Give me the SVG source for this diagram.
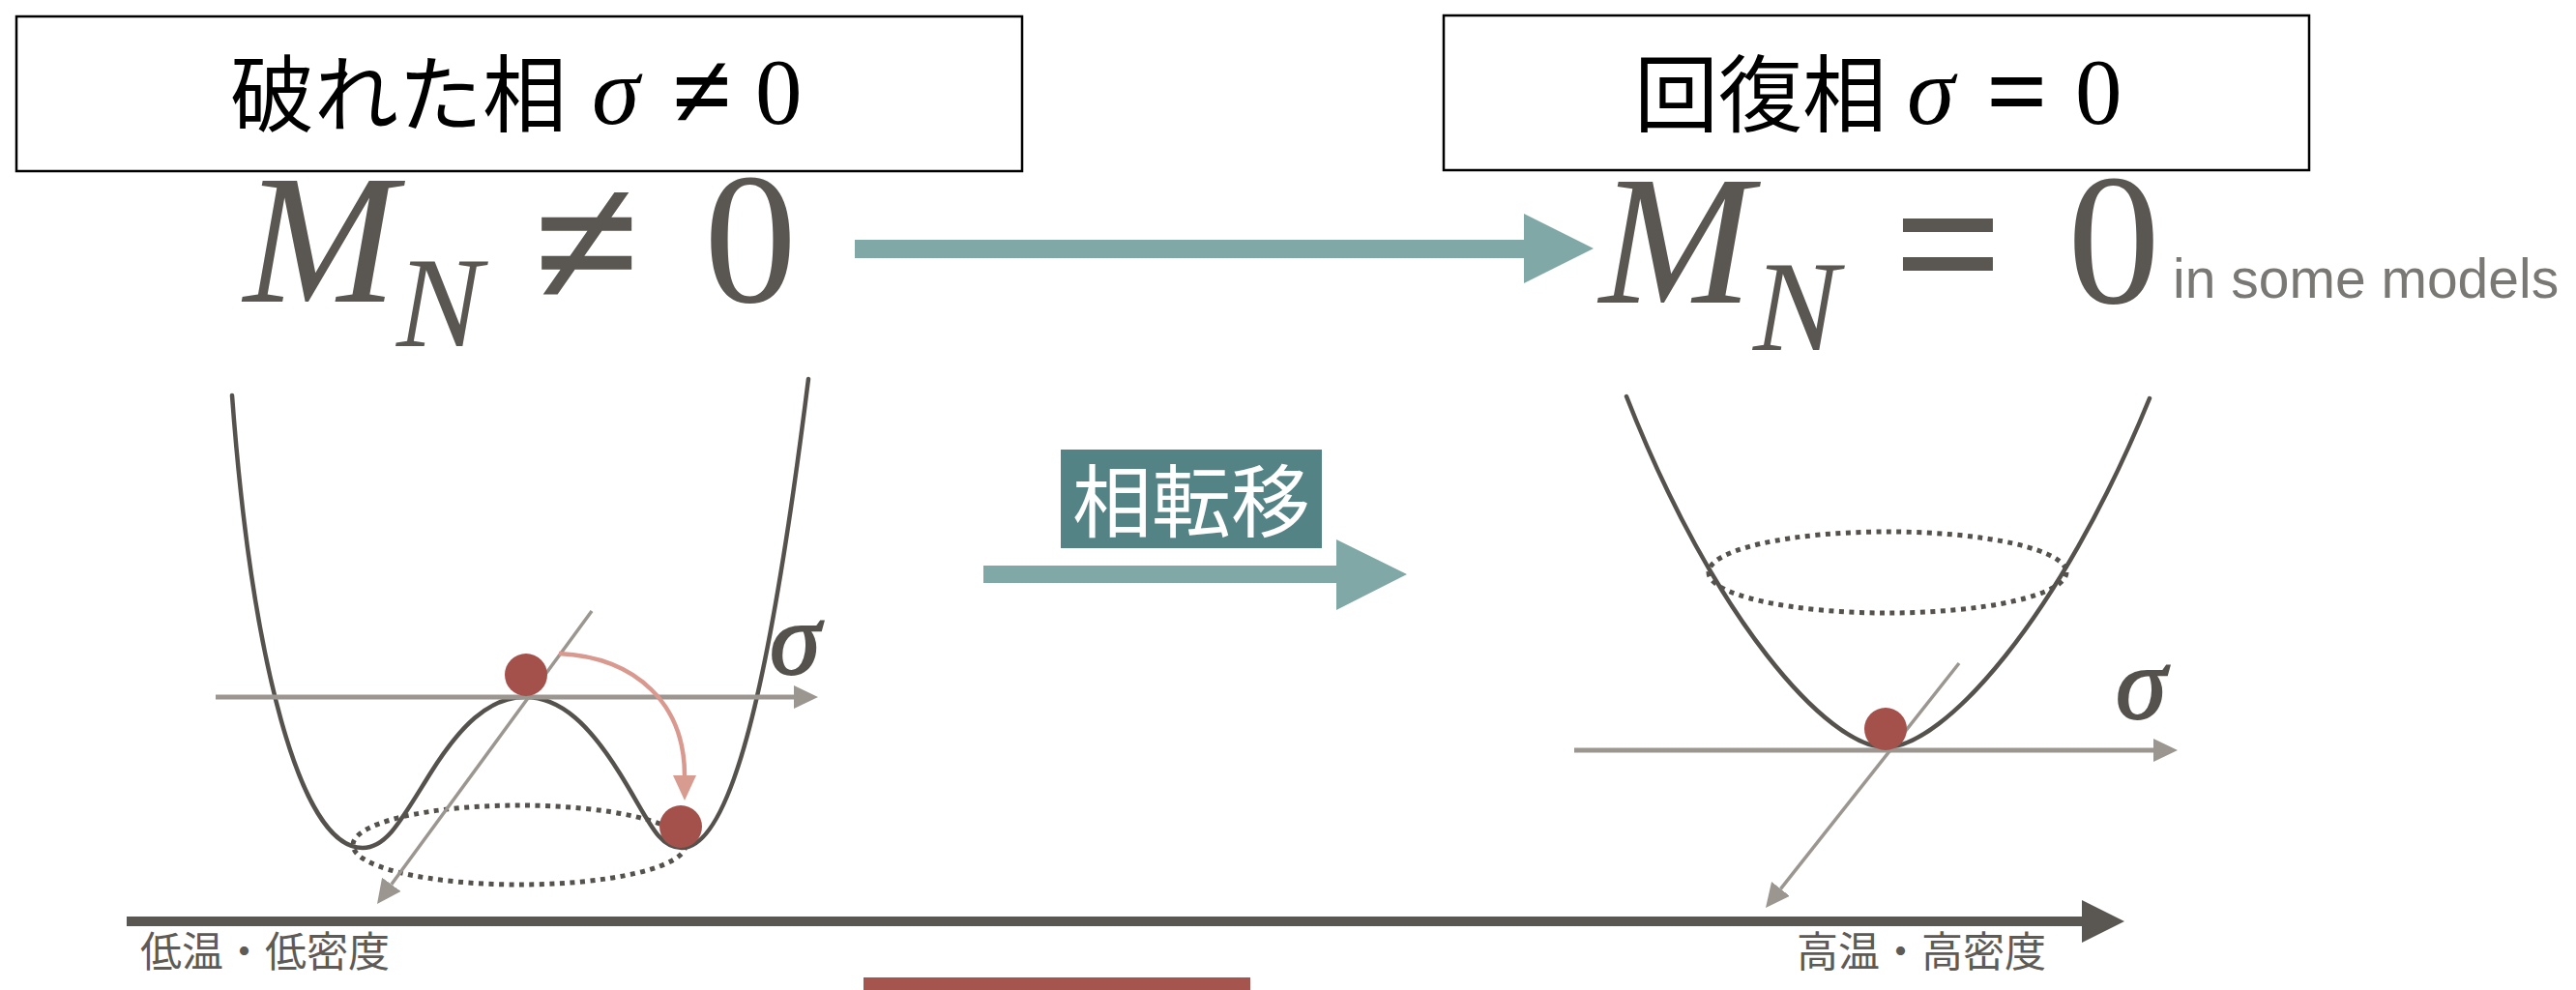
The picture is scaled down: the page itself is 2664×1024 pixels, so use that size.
<svg xmlns="http://www.w3.org/2000/svg" width="2664" height="1024" viewBox="0 0 2664 1024">
  <style>
    .box { fill: #ffffff; stroke: #000000; stroke-width: 2.5; }
    .title-jp { font-family: "Noto Sans CJK JP", "Noto Sans", sans-serif; font-size: 87px; fill: #000000; }
    .title-math { font-family: "Liberation Serif", "DejaVu Serif", serif; font-size: 100px; fill: #000000; }
    .title-sym { font-family: "Liberation Serif", "DejaVu Serif", serif; font-size: 112px; font-weight: bold; fill: #000000; }
    .title-num { font-family: "Liberation Serif", "DejaVu Serif", serif; font-size: 97px; fill: #000000; }
    .mass { font-family: "Liberation Serif", "DejaVu Serif", serif; fill: #5a5651; }
    .mass-it { font-style: italic; }
    .mass-sym { font-weight: bold; }
    .note { font-family: "Liberation Sans", Arial, sans-serif; font-size: 57px; fill: #7a7875; }
    .sigma { font-family: "Liberation Serif", "DejaVu Serif", serif; font-style: italic; font-size: 106px; fill: #55524e; stroke: #55524e; stroke-width: 2; }
    .curve { fill: none; stroke: #55524e; stroke-width: 4.5; stroke-linecap: round; }
    .orbit { fill: none; stroke: #55524e; stroke-width: 5; stroke-dasharray: 5 5.5; }
    .axis { fill: none; stroke: #9b968f; stroke-width: 5; }
    .axis-diag { fill: none; stroke: #9b968f; stroke-width: 3.5; }
    .ball { fill: #a5514b; }
    .teal { fill: #80a8a6; }
    .label-jp { font-family: "Noto Sans CJK JP", "Noto Sans", sans-serif; font-size: 43px; fill: #5e5a55; }
  </style>
  <defs>
    <marker id="head-gray" viewBox="0 0 25 24" refX="0" refY="12" markerWidth="25" markerHeight="24" markerUnits="userSpaceOnUse" orient="auto">
      <path d="M0 0 L25 12 L0 24 z" fill="#9b968f"/>
    </marker>
    <marker id="head-pink" viewBox="0 0 26 24" refX="0" refY="12" markerWidth="26" markerHeight="24" markerUnits="userSpaceOnUse" orient="auto">
      <path d="M0 0 L26 12 L0 24 z" fill="#d79b90"/>
    </marker>
    <marker id="head-dark" viewBox="0 0 44 44" refX="0" refY="22" markerWidth="44" markerHeight="44" markerUnits="userSpaceOnUse" orient="auto">
      <path d="M0 0 L44 22 L0 44 z" fill="#5a5753"/>
    </marker>
  </defs>

  <rect width="2664" height="1024" fill="#ffffff"/>

  <!-- broken phase heading -->
  <g id="broken-phase-title">
    <rect class="box" x="17" y="17" width="1040" height="160"/>
    <text class="title-jp" x="238" y="130">破れた相</text>
    <text class="title-math" x="612" y="128" font-style="italic">σ</text>
    <text class="title-sym" x="695" y="132">≠</text>
    <text class="title-num" x="781" y="128">0</text>
  </g>

  <!-- restored phase heading -->
  <g id="restored-phase-title">
    <rect class="box" x="1493" y="16" width="895" height="160"/>
    <text class="title-jp" x="1690" y="130">回復相</text>
    <text class="title-math" x="1972" y="128" font-style="italic">σ</text>
    <text class="title-sym" x="2054" y="132">=</text>
    <text class="title-num" x="2146" y="128">0</text>
  </g>

  <!-- nucleon mass, broken phase -->
  <g id="mass-broken">
    <text class="mass mass-it" x="252" y="312" font-size="190">M</text>
    <text class="mass mass-it" x="410" y="358" font-size="133">N</text>
    <text class="mass mass-sym" x="552" y="318" font-size="200">≠</text>
    <text class="mass" x="728" y="312" font-size="192">0</text>
  </g>

  <!-- nucleon mass, restored phase -->
  <g id="mass-restored">
    <text class="mass mass-it" x="1654" y="313" font-size="190">M</text>
    <text class="mass mass-it" x="1813" y="362" font-size="133">N</text>
    <text class="mass mass-sym" x="1958" y="319" font-size="200">=</text>
    <text class="mass" x="2138" y="313" font-size="192">0</text>
    <text class="note" x="2247" y="308">in some models</text>
  </g>

  <!-- double-well potential -->
  <g id="potential-broken">
    <ellipse class="orbit" cx="537" cy="874" rx="172" ry="41"/>
    <path class="curve" d="M240 409 C260 680 310 877 375 877 C400 877 415 848 445 800 C475 752 505 721 543 721 C581 721 611 752 641 800 C671 848 680 877 705 877 C760 877 800 680 836 392"/>
    <line class="axis" x1="223" y1="721" x2="821" y2="721" marker-end="url(#head-gray)"/>
    <line class="axis-diag" x1="612" y1="632" x2="404.8" y2="914.8" marker-end="url(#head-gray)"/>
    <text class="sigma" x="796" y="697">σ</text>
    <circle class="ball" cx="544" cy="698" r="22"/>
    <circle class="ball" cx="704" cy="855" r="22"/>
    <path d="M578 676 C660 680 708 730 708 802" fill="none" stroke="#d9998e" stroke-width="4.5" marker-end="url(#head-pink)"/>
  </g>

  <!-- single-well potential -->
  <g id="potential-restored">
    <ellipse class="orbit" cx="1952" cy="592" rx="185" ry="42"/>
    <path class="curve" d="M1682 410 C1772 640 1890 773 1950 773 C2010 773 2130 640 2223 412"/>
    <line class="axis" x1="1628" y1="776" x2="2227" y2="776" marker-end="url(#head-gray)"/>
    <line class="axis-diag" x1="2026" y1="686" x2="1841.5" y2="919.4" marker-end="url(#head-gray)"/>
    <text class="sigma" x="2188" y="743">σ</text>
    <circle class="ball" cx="1950" cy="754" r="22"/>
  </g>

  <!-- phase transition tag -->
  <g id="transition-label">
    <rect x="1097" y="465" width="270" height="102" fill="#548386"/>
    <text x="1232" y="549" text-anchor="middle" font-family="'Noto Sans CJK JP', 'Noto Sans', sans-serif" font-size="82" fill="#ffffff">相転移</text>
  </g>

  <!-- temperature / density axis -->
  <g id="temperature-axis">
    <line x1="131" y1="953" x2="2153" y2="953" stroke="#5a5753" stroke-width="10" marker-end="url(#head-dark)"/>
    <text class="label-jp" x="145" y="1000">低温・低密度</text>
    <text class="label-jp" x="1858" y="1000">高温・高密度</text>
  </g>

  <g id="footer-bar">
    <rect x="893" y="1011" width="400" height="20" fill="#a5554e"/>
  </g>

  <!-- block arrows between the phases -->
  <g id="connectors">
    <path class="teal" d="M884 248 H1576 V221 L1648 257 L1576 293 V267 H884 z"/>
    <path class="teal" d="M1017 585 H1382 V558 L1455 594 L1382 631 V603 H1017 z"/>
  </g>
</svg>
